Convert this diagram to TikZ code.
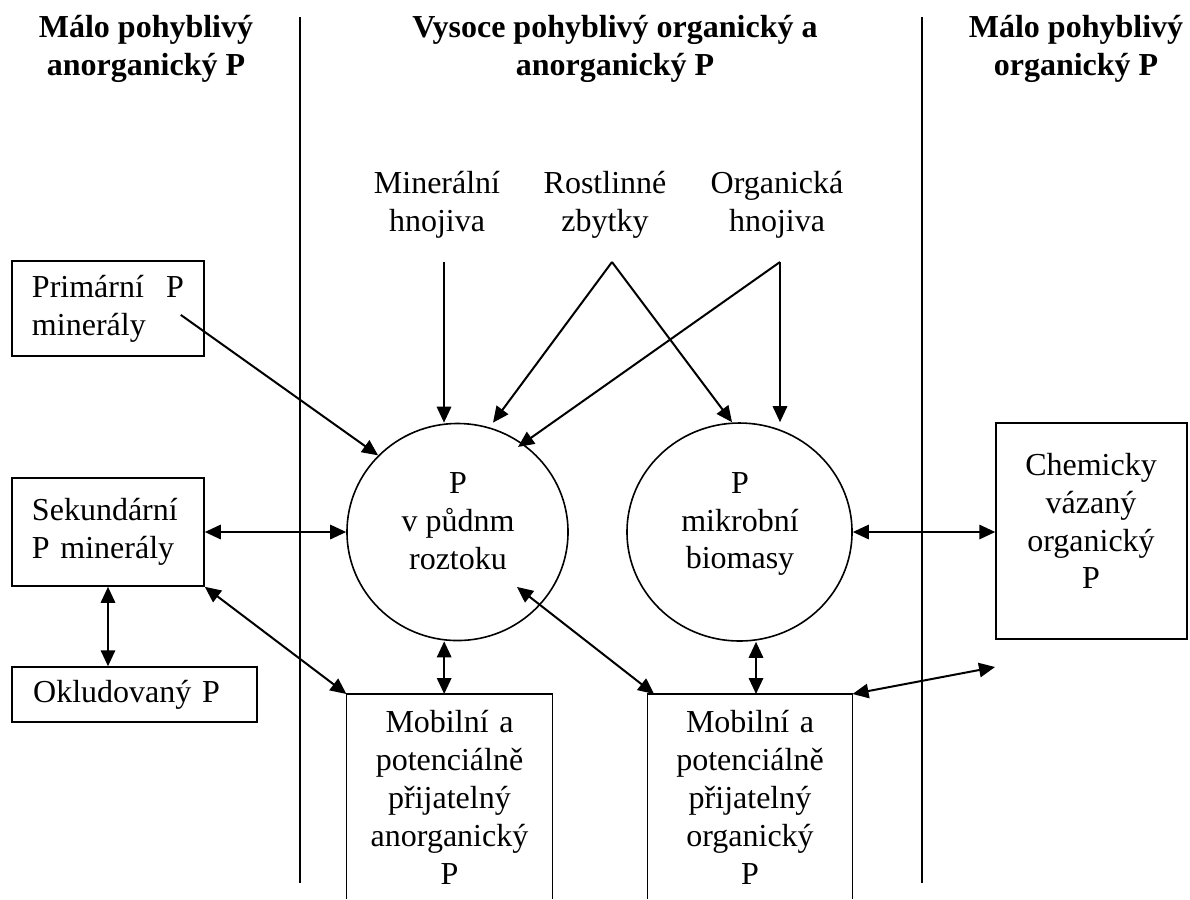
\documentclass[tikz,border=0pt]{standalone}
\usepackage{fontspec}
\setmainfont{Liberation Serif}
\usetikzlibrary{arrows.meta,shapes.geometric}
\tikzset{
  box/.style={draw, line width=0.6pt, inner sep=0pt},
  blob/.style={draw, ellipse, line width=0.6pt, inner sep=0pt},
  txt/.style={align=center, inner sep=0pt, font=\fontsize{12}{14.2}\selectfont},
  hdr/.style={align=center, inner sep=0pt, font=\fontsize{12}{14.2}\selectfont\bfseries},
  divider/.style={line width=0.8pt},
  arr/.style={line width=0.75pt, -{Triangle[length=6pt,width=5.4pt]}},
  darr/.style={line width=0.75pt, {Triangle[length=6pt,width=5.4pt]}-{Triangle[length=6pt,width=5.4pt]}},
  openbox/.style={line width=0.6pt}
}
\begin{document}
\begin{tikzpicture}[x=0.375pt, y=-0.375pt]
\useasboundingbox (0,0) rectangle (1190,899);
\coordinate (bot) at (0,899);

% column dividers
\coordinate (v1t) at (300,17);
\coordinate (v1b) at (300,883);
\coordinate (v2t) at (922,17);
\coordinate (v2b) at (922,883);
\draw[divider] (v1t) -- (v1b);
\draw[divider] (v2t) -- (v2b);

% headers
\node[hdr] (h1) at (146,49) {Málo pohyblivý\\anorganický P};
\node[hdr] (h2) at (615,49) {Vysoce pohyblivý organický a\\anorganický P};
\node[hdr] (h3) at (1076,49) {Málo pohyblivý\\organický P};

% inputs
\node[txt] (min) at (437,205) {Minerální\\hnojiva};
\node[txt] (ros) at (605,205) {Rostlinné\\zbytky};
\node[txt] (org) at (777,205) {Organická\\hnojiva};
\coordinate (sa) at (444,262);
\coordinate (sb) at (612,262);
\coordinate (sc) at (780,262);

% left boxes
\node[box, minimum width=72pt, minimum height=35.6pt, text width=57pt, align=left,
      font=\fontsize{12}{14.2}\selectfont] (prim) at (108,308.5) {Primární\hfill P\\minerály};
\node[box, minimum width=72pt, minimum height=40.5pt, text width=57pt, align=left,
      font=\fontsize{12}{14.2}\selectfont] (sek) at (108,532) {Sekundární\\P minerály};
\node[box, minimum width=91.9pt, minimum height=20.6pt, text width=76pt, align=left,
      font=\fontsize{12}{14.2}\selectfont] (okl) at (134.5,694.5) {Okludovaný P};

% circles
\node[blob, minimum width=82.9pt, minimum height=81.4pt] (c1) at (457.5,532) {};
\node[txt] (t1) at (458,521) {P\\v půdnm\\roztoku};
\node[blob, minimum width=84.4pt, minimum height=81.75pt] (c2) at (739.5,532) {};
\node[txt] (t2) at (740,524) {P\\mikrobní\\biomasy};

% right box
\node[box, minimum width=71.6pt, minimum height=81pt] (chem) at (1091.5,531) {};
\node[txt] (chemt) at (1091,521) {Chemicky\\vázaný\\organický\\P};

% bottom open boxes
\node[txt, anchor=north, text width=70pt, inner xsep=3.45pt, inner ysep=6pt] (m1) at (449.5,694)
  {Mobilní a\\potenciálně\\přijatelný\\anorganický\\P};
\node[txt, anchor=north, text width=70pt, inner xsep=3.25pt, inner ysep=6pt] (m2) at (750,694)
  {Mobilní a\\potenciálně\\přijatelný\\organický\\P};
\draw[openbox] (m1.north west |- bot) -- (m1.north west) -- (m1.north east) -- (m1.north east |- bot);
\draw[openbox] (m2.north west |- bot) -- (m2.north west) -- (m2.north east) -- (m2.north east |- bot);

\coordinate (fr) at (995,667);

% connectors
\draw[arr] (sa) -- (sa |- c1.north);
\draw[arr] (sb) -- ([xshift=13.3pt,yshift=41pt]c1.center);
\draw[arr] (sb) -- ([xshift=-2.8pt]c2.north);
\draw[arr] (sc) -- (sc |- c2.north);
\draw[arr] (sc) -- ([xshift=22.7pt,yshift=31.9pt]c1.center);
\draw[arr] ([xshift=-9pt,yshift=-2.4pt]prim.east) -- (c1.136);
\draw[darr] (sek.east) -- (c1.west);
\draw[darr] (sek.south) -- (sek.south |- okl.north);
\draw[darr] (sek.south east) -- (m1.north west);
\draw[darr] ([xshift=-2pt]m1.north |- c1.south) -- ([xshift=-2pt]m1.north);
\draw[darr] ([xshift=22.3pt,yshift=-20.6pt]c1.center) -- ([xshift=2.5pt]m2.north west);
\draw[darr] ([xshift=2.25pt]m2.north |- c2.south) -- ([xshift=2.25pt]m2.north);
\draw[darr] (m2.north east) -- (fr);
\draw[darr] (c2.east) -- (c2.east -| chem.west);
\end{tikzpicture}
\end{document}
